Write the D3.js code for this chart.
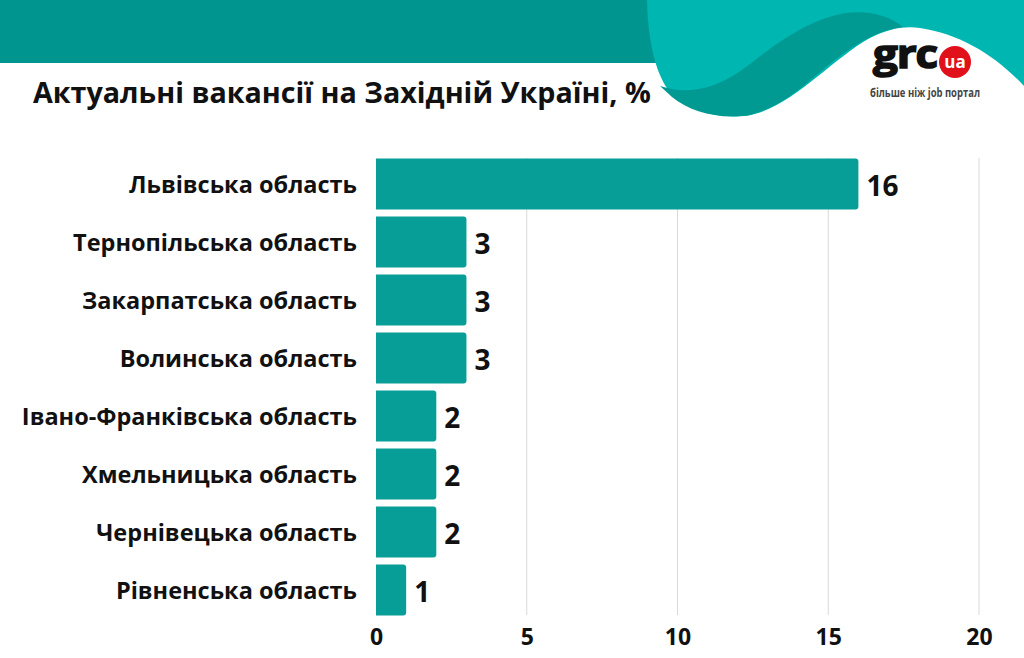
<!DOCTYPE html>
<html><head><meta charset="utf-8">
<script src="https://cdn.jsdelivr.net/npm/d3@7/dist/d3.min.js"></script>
<style>
html,body{margin:0;padding:0;background:#fff;}
svg{display:block;}
text{font-family:"Open Sans","Noto Sans",sans-serif;font-weight:700;}
</style></head>
<body>
<svg id="chart" width="1024" height="658"></svg>
<script>
const title = "Актуальні вакансії на Західній Україні, %";
const categories = ["Львівська область","Тернопільська область","Закарпатська область","Волинська область","Івано-Франківська область","Хмельницька область","Чернівецька область","Рівненська область"];
const values = [16,3,3,3,2,2,2,1];
const tickValues = [0,5,10,15,20];

const svg = d3.select("#chart");

// header decoration
svg.append("rect").attr("x",0).attr("y",0).attr("width",700).attr("height",63).attr("fill","#009690");
svg.append("path").attr("fill","#00b6b1")
  .attr("d","M647,0 C648,40 655,75 672,95 C690,112 720,118 745,116 C790,110 830,60 870,38 C890,28 905,26 920,28 C960,34 995,55 1024,86 L1024,0 Z");
svg.append("path").attr("fill","#009a93")
  .attr("d","M660,86 C690,96 720,88 750,64 C785,36 815,18 845,13 C870,10 890,16 903,27 C880,30 862,40 840,56 C810,78 790,104 750,115 C720,120 690,112 672,97 Z");
// logo
svg.append("text").attr("x",873).attr("y",68).attr("font-size",40).attr("font-family","Roboto, Arial, sans-serif")
  .attr("font-weight",700).attr("letter-spacing",-1).attr("fill","#111").attr("stroke","#111").attr("stroke-width",1.6)
  .attr("textLength",64).attr("lengthAdjust","spacingAndGlyphs").text("grc");
svg.append("circle").attr("cx",955).attr("cy",62).attr("r",16).attr("fill","#e1111c");
svg.append("text").attr("x",955).attr("y",68).attr("text-anchor","middle").attr("font-size",17)
  .attr("font-family","Roboto, Arial, sans-serif").attr("fill","#fff").text("ua");
svg.append("text").attr("x",870).attr("y",97).attr("font-size",12).attr("font-weight",500)
  .attr("font-family","Roboto, Arial, sans-serif").attr("fill","#444")
  .attr("textLength",110).attr("lengthAdjust","spacingAndGlyphs").text("більше ніж job портал");

svg.append("text").attr("x",33).attr("y",103).attr("font-size",28.7).attr("fill","#111").text(title);

const x = d3.scaleLinear().domain([0,20]).range([376,979]);
const y = d3.scaleBand().domain(categories).range([155,619]).paddingInner(0.12).paddingOuter(0.06);

// grid
svg.append("g").selectAll("line").data(tickValues.slice(1)).join("line")
  .attr("x1",d=>x(d)).attr("x2",d=>x(d)).attr("y1",y.range()[0]+3).attr("y2",y.range()[1]-4)
  .attr("stroke","#d9d9d9").attr("stroke-width",1);

// bars
svg.append("g").selectAll("path").data(values).join("path")
  .attr("fill","#089e98")
  .attr("d",(d,i)=>{
    const x0=x(0), x1=x(d), y0=y(categories[i]), h=y.bandwidth(), r=3;
    return `M${x0},${y0} H${x1-r} Q${x1},${y0} ${x1},${y0+r} V${y0+h-r} Q${x1},${y0+h} ${x1-r},${y0+h} H${x0} Z`;
  });

// value labels
svg.append("g").selectAll("text").data(values).join("text")
  .attr("x",d=>x(d)+8).attr("y",(d,i)=>y(categories[i])+y.bandwidth()/2)
  .attr("dy","0.42em").attr("font-size",28).attr("fill","#111").text(d=>d);

// category labels
svg.append("g").selectAll("text").data(categories).join("text")
  .attr("x",357).attr("y",d=>y(d)+y.bandwidth()/2).attr("dy","0.38em")
  .attr("text-anchor","end").attr("font-size",23.5).attr("fill","#111").text(d=>d);

// x axis
const ax = svg.append("g").attr("transform","translate(0,623)")
  .call(d3.axisBottom(x).tickValues(tickValues).tickSize(0).tickPadding(6));
ax.select(".domain").remove();
ax.selectAll("text").attr("font-size",23).attr("fill","#111").attr("font-family","'Open Sans','Noto Sans',sans-serif").attr("font-weight",700);
</script>
</body></html>
